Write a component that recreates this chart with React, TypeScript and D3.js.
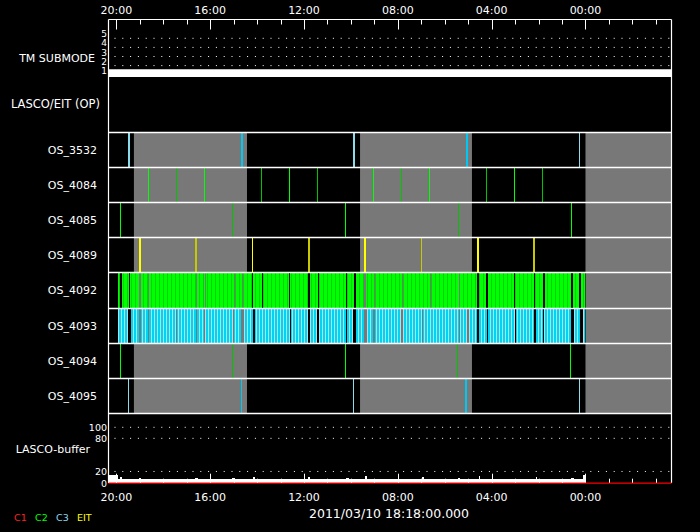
import React from "react";
import * as d3 from "d3";

// ---------- data ----------
const TIME_DOMAIN = [20 + 20 / 60, -3 - 40 / 60]; // hours, left -> right
const MAJOR_TICKS = [20, 16, 12, 8, 4, 0];
const MINOR_TICKS = [20, 19, 18, 17, 16, 15, 14, 13, 12, 11, 10, 9, 8, 7, 6, 5, 4, 3, 2, 1, 0, -1, -2, -3];
const DATE_LABEL = "2011/03/10 18:18:00.000";

const TM_LEVELS = [1, 2, 3, 4, 5];
const TM_SERIES = [[20.33, 1], [-3.67, 1]];

const ROWS = ["OS_3532", "OS_4084", "OS_4085", "OS_4089", "OS_4092", "OS_4093", "OS_4094", "OS_4095"];

// shaded (gray) intervals, hours [from, to]
const SHADE = [[19.25, 14.43], [9.61, 4.84], [0, -3.67]];

// single events: [hour, kind, duration minutes]
const EV_3532 = [[19.446, "C3L", 5], [14.627, "C3", 5], [9.851, "C3L", 5], [5.045, "C3", 5], [0.243, "C3L", 2.5]];
const EV_4084 = [[18.623, "G", 2.5], [17.429, "Gd", 2.5], [16.235, "G", 2.5], [13.804, "Gd", 2.5], [12.61, "G", 2.5], [11.416, "Gd", 2.5],
  [9.028, "G", 2.5], [7.834, "Gd", 2.5], [6.64, "G", 2.5], [4.209, "Gd", 2.5], [3.015, "G", 2.5], [1.821, "Gd", 2.5]];
const EV_4085 = [[19.817, "G", 2.5], [15.041, "Gd", 2.5], [10.222, "G", 2.5], [5.403, "Gd", 3.5], [0.61, "G", 2.5]];
const EV_4089 = [[18.989, "Y", 5], [16.588, "Yd", 5], [14.188, "Y", 2.5], [11.77, "Yd", 5], [9.382, "Y", 5], [6.981, "Yd", 2.5], [4.563, "Y", 5], [2.175, "Yd", 5]];
const EV_4094 = [[19.817, "G", 2.5], [15.041, "Gd", 2.5], [10.222, "G", 2.5], [5.446, "Gd", 2.5], [0.625, "G", 2.5]];
const EV_4095 = [[19.48, "C3L", 2.5], [14.67, "C3", 2.5], [9.894, "C3L", 2.5], [5.075, "C3", 5], [0.243, "C3L", 2.5]];

// dense sequences: span [from,to] and gaps [center hour, width hours]
const SPAN_4092 = [19.915, 0.0];
const GAPS_4092 = [[19.795, 0.072], [19.42, 0.043], [18.99, 0.055], [18.627, 0.043], [16.584, 0.072], [16.2, 0.043], [14.964, 0.072],
  [14.627, 0.06], [14.179, 0.043], [13.783, 0.043], [12.61, 0.055], [11.77, 0.085], [11.395, 0.043], [10.17, 0.043], [9.825, 0.055],
  [9.382, 0.085], [8.985, 0.055], [7.8, 0.043], [6.6, 0.055], [5.36, 0.055], [4.575, 0.085], [4.2, 0.068], [3.015, 0.055],
  [2.163, 0.055], [1.766, 0.055], [0.563, 0.098], [0.23, 0.055]];
const SPAN_4093 = [19.915, 0.02];
const GAPS_4093 = [[19.424, 0.128], [18.985, 0.072], [18.635, 0.055], [17.441, 0.055], [16.576, 0.072], [16.235, 0.055], [15.002, 0.072],
  [14.627, 0.115], [14.136, 0.072], [12.58, 0.043], [11.77, 0.085], [11.399, 0.055], [10.192, 0.043], [9.829, 0.128], [9.373, 0.098],
  [9.011, 0.055], [7.817, 0.055], [6.943, 0.072], [5.365, 0.072], [5.002, 0.115], [4.571, 0.098], [4.179, 0.055], [2.994, 0.043],
  [2.141, 0.072], [1.791, 0.055], [0.554, 0.115], [0.183, 0.115]];

// LASCO buffer (C2/C3 total), [hour, value]
const BUFFER = [[20.34, 13], [19.91, 6], [19.83, 10], [19.74, 6], [19.4, 7], [19.02, 9], [18.93, 6], [16.63, 9], [16.5, 6],
  [15.05, 8], [14.93, 6], [14.16, 10], [14.07, 6], [11.81, 10], [11.73, 6], [10.23, 7.5], [10.1, 6.5], [9.72, 6], [9.38, 11], [9.3, 6],
  [6.95, 10], [6.87, 6], [5.42, 9], [5.33, 6], [4.56, 11], [4.48, 6], [2.13, 10], [2.05, 6], [0.61, 9], [0.5, 6], [0.23, 7],
  [0.09, 13], [0.0, 0]];
const BUFFER_C1 = [[20.34, 0], [-3.67, 0]];
const BUFFER_TICKS = [0, 20, 80, 100];
const BUFFER_GRID = [20, 80, 100];

const LEGEND = [["C1", "#ff2020"], ["C2", "#00ff00"], ["C3", "#90d8f0"], ["EIT", "#ffff00"]];

// ---------- styles ----------
const KIND_COLOR = { C3L: "#88dcec", C3: "#00c8f0", G: "#00ff00", Gd: "#00c400", Y: "#ffff00", Yd: "#c8c800" };
const FONT = "DejaVu Sans, sans-serif";

export default function App() {
  const W = 700, H = 532;
  const L = 108.5, R = 671.5, T = 19.5, B = 482.7;
  const x = d3.scaleLinear().domain(TIME_DOMAIN).range([L, R]);
  const yTM = d3.scaleLinear().domain([1, 5]).range([74.7, 38.3]);
  const yB = d3.scaleLinear().domain([0, 100]).range([482.5, 427.3]);
  const rowTop = (i: number) => Math.round(132 + i * 35.1) + 0.5;

  const fmt = (h: number) => String((h + 24) % 24).padStart(2, "0") + ":00";

  const evRows: Record<string, any[]> = { OS_3532: EV_3532, OS_4084: EV_4084, OS_4085: EV_4085, OS_4089: EV_4089, OS_4094: EV_4094, OS_4095: EV_4095 };
  const dense: Record<string, any> = { OS_4092: { span: SPAN_4092, gaps: GAPS_4092, fill: "url(#pg)" }, OS_4093: { span: SPAN_4093, gaps: GAPS_4093, fill: "url(#pc)" } };

  const segments = (span: number[], gaps: number[][]) => {
    const out: number[][] = [];
    let cur = span[0];
    const gs = [...gaps].sort((a, b) => b[0] - a[0]);
    for (const [c, w] of gs) {
      const a = c + w / 2, b = c - w / 2;
      if (a < cur) out.push([cur, a]);
      cur = b;
    }
    if (cur > span[1]) out.push([cur, span[1]]);
    return out;
  };

  const area = d3.area<number[]>().x(d => x(d[0])).y0(yB(0)).y1(d => yB(d[1])).curve(d3.curveStepAfter);
  const c1line = d3.line<number[]>().x(d => x(d[0])).y(d => yB(d[1]) + 0.6);
  const tmLine = d3.line<number[]>().x(d => x(d[0])).y(d => yTM(d[1]));

  return (
    <svg width={W} height={H} style={{ position: "absolute", left: 0, top: 0, background: "#000" }} fontFamily={FONT}>
      <defs>
        <pattern id="pg" width="4" height="10" patternUnits="userSpaceOnUse">
          <rect width="4" height="10" fill="#00ff00" />
          <rect x="3" width="1" height="10" fill="#00d400" />
        </pattern>
        <pattern id="pc" width="3" height="10" patternUnits="userSpaceOnUse">
          <rect width="3" height="10" fill="#00d4f0" />
          <rect x="1" width="1" height="10" fill="#a8e4ee" />
        </pattern>
        <clipPath id="tmclip"><rect x={L} y={T} width={R - L} height={77 - T} /></clipPath>
      </defs>
      <rect width={W} height={H} fill="#000" />

      {/* TM SUBMODE panel */}
      {TM_LEVELS.filter(v => v > 1).map(v => (
        <line key={"tg" + v} x1={L + 6} x2={R} y1={yTM(v)} y2={yTM(v)} stroke="#fff" strokeWidth={1} strokeDasharray="1 6.8" />
      ))}
      <path d={tmLine(TM_SERIES as any) || ""} stroke="#fff" strokeWidth={11} fill="none" clipPath="url(#tmclip)" />
      {TM_LEVELS.map(v => (
        <text key={"tl" + v} x={107} y={yTM(v) - 4} fill="#fff" fontSize={9} textAnchor="end" dominantBaseline="central">{v}</text>
      ))}
      <text x={95} y={58} fill="#fff" fontSize={11} textAnchor="end" dominantBaseline="central">TM SUBMODE</text>
      <text x={100} y={104} fill="#fff" fontSize={11.5} textAnchor="end" dominantBaseline="central">LASCO/EIT (OP)</text>

      {/* shaded intervals */}
      {SHADE.map((s, i) => (
        <rect key={"sh" + i} x={x(s[0])} width={x(s[1]) - x(s[0])} y={rowTop(0)} height={rowTop(8) - rowTop(0)} fill="#787878" />
      ))}

      {/* rows */}
      {ROWS.map((name, i) => {
        const y0 = rowTop(i), y1 = rowTop(i + 1);
        const ev = evRows[name];
        const dn = dense[name];
        return (
          <g key={name}>
            {ev && ev.map((e, j) => {
              const w = Math.max(1, Math.round(Math.abs(x(e[0]) - x(e[0] - e[2] / 60))));
              return <rect key={j} x={Math.round(x(e[0]) - w / 2)} width={w} y={y0} height={y1 - y0} fill={(KIND_COLOR as any)[e[1]]} shapeRendering="crispEdges" />;
            })}
            {dn && segments(dn.span, dn.gaps).map((s, j) => (
              <rect key={j} x={x(s[0])} width={x(s[1]) - x(s[0])} y={y0} height={y1 - y0} fill={dn.fill} shapeRendering="crispEdges" />
            ))}
            <text x={97} y={(y0 + y1) / 2} fill="#fff" fontSize={11} textAnchor="end" dominantBaseline="central">{name}</text>
          </g>
        );
      })}
      {d3.range(0, 9).map(i => (
        <line key={"rl" + i} x1={L} x2={R} y1={rowTop(i)} y2={rowTop(i)} stroke="#fff" strokeWidth={1.3} />
      ))}

      {/* LASCO buffer */}
      {BUFFER_GRID.map(v => (
        <line key={"bg" + v} x1={L + 6} x2={R} y1={yB(v)} y2={yB(v)} stroke="#fff" strokeWidth={1} strokeDasharray="1 6.8" />
      ))}
      <path d={area(BUFFER as any) || ""} fill="#fff" shapeRendering="crispEdges" />
      <path d={c1line(BUFFER_C1 as any) || ""} stroke="#ff0000" strokeWidth={1.2} fill="none" />
      {BUFFER_TICKS.map(v => (
        <text key={"bt" + v} x={107} y={yB(v) + (v === 0 ? 1 : 0)} fill="#fff" fontSize={9.5} textAnchor="end" dominantBaseline="central">{v}</text>
      ))}
      <text x={90} y={449} fill="#fff" fontSize={11} textAnchor="end" dominantBaseline="central">LASCO-buffer</text>

      {/* frame */}
      <line x1={L} x2={R} y1={T} y2={T} stroke="#fff" strokeWidth={1} />
      <line x1={L} x2={L} y1={T} y2={B} stroke="#fff" strokeWidth={1.2} />
      <line x1={R} x2={R} y1={T} y2={B} stroke="#fff" strokeWidth={1.2} />

      {/* ticks */}
      {MINOR_TICKS.map(h => {
        const major = MAJOR_TICKS.includes(h);
        const xx = Math.round(x(h)) + 0.5;
        return (
          <g key={"tk" + h}>
            <line x1={xx} x2={xx} y1={T} y2={T + (major ? 10 : 5)} stroke="#fff" strokeWidth={1} />
            <line x1={xx} x2={xx} y1={B} y2={B - (major ? 9 : 4)} stroke="#fff" strokeWidth={1} />
          </g>
        );
      })}
      {MAJOR_TICKS.map(h => (
        <g key={"lb" + h}>
          <text x={x(h)} y={10} fill="#fff" fontSize={11} textAnchor="middle" dominantBaseline="central">{fmt(h)}</text>
          <text x={x(h)} y={497} fill="#fff" fontSize={11} textAnchor="middle" dominantBaseline="central">{fmt(h)}</text>
        </g>
      ))}
      <text x={389} y={513} fill="#fff" fontSize={12.5} textAnchor="middle" dominantBaseline="central">{DATE_LABEL}</text>

      {/* legend */}
      {LEGEND.map((l, i) => (
        <text key={l[0]} x={14 + i * 21} y={517} fill={l[1]} fontSize={9.5} dominantBaseline="central">{l[0]}</text>
      ))}
    </svg>
  );
}
